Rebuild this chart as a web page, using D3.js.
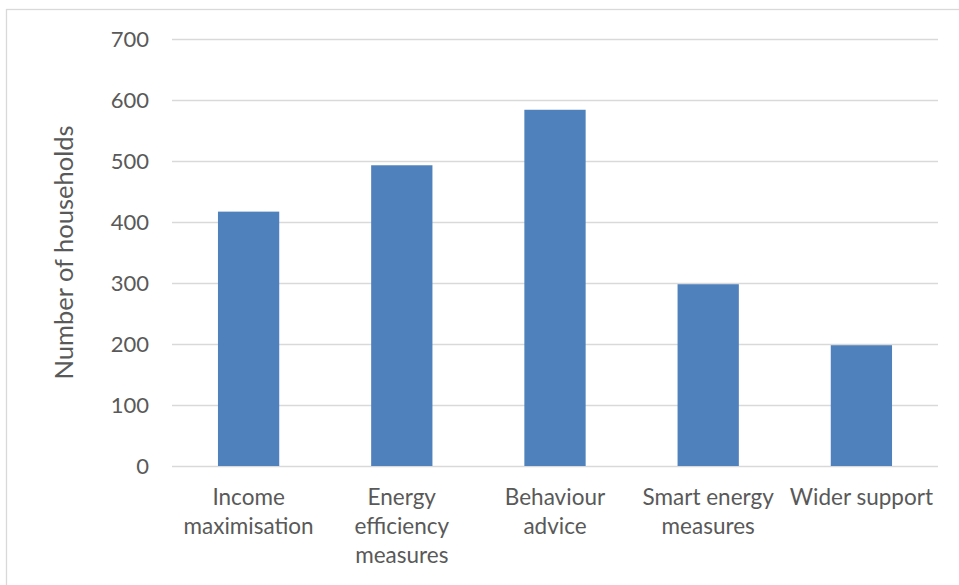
<!DOCTYPE html>
<html>
<head>
<meta charset="utf-8">
<script src="https://cdn.jsdelivr.net/npm/d3@7"></script>
<style>
  html, body { margin: 0; padding: 0; background: #ffffff; }
  svg { display: block; }
  svg text { font-family: Lato, "Open Sans", sans-serif; }
</style>
</head>
<body>
<svg id="chart" width="959" height="585"></svg>
<script>
// Support offered, by number of households
const categories = [
  ["Income", "maximisation"],
  ["Energy", "efficiency", "measures"],
  ["Behaviour", "advice"],
  ["Smart energy", "measures"],
  ["Wider support"]
];
const households = [417, 493, 584, 298, 198];
const yTicks = [0, 100, 200, 300, 400, 500, 600, 700];
const yTitle = "Number of households";

const W = 959, H = 585;
const plot = { left: 172, right: 938, top: 39, bottom: 466 };
const FONT = "Lato, 'Open Sans', sans-serif";

const svg = d3.select("#chart");

// outer chart frame
svg.append("rect")
  .attr("x", 6.5).attr("y", 9.5)
  .attr("width", W + 20).attr("height", H + 20)
  .attr("fill", "none")
  .attr("stroke", "#d9d9d9")
  .attr("stroke-width", 1.3);

const keys = categories.map((c, i) => i);
const x = d3.scaleBand()
  .domain(keys)
  .range([plot.left, plot.right])
  .paddingInner(0.6)
  .paddingOuter(0.3);

const y = d3.scaleLinear()
  .domain([0, 700])
  .range([plot.bottom, plot.top]);

// horizontal gridlines with value labels
const yAxis = d3.axisLeft(y)
  .tickValues(yTicks)
  .tickSize(-(plot.right - plot.left))
  .tickPadding(23)
  .tickFormat(d3.format("d"));

const gy = svg.append("g")
  .attr("transform", `translate(${plot.left},0)`)
  .call(yAxis)
  .attr("font-family", FONT)
  .attr("font-size", 22);
gy.select(".domain").remove();
gy.selectAll(".tick line")
  .attr("stroke", "#d9d9d9")
  .attr("stroke-width", 1.5);
gy.selectAll(".tick text")
  .attr("fill", "#595959")
  .attr("dy", "0.36em");

// bars
svg.append("g")
  .selectAll("rect")
  .data(households)
  .join("rect")
  .attr("x", (d, i) => x(i))
  .attr("y", d => y(d))
  .attr("width", x.bandwidth())
  .attr("height", d => y(0) - y(d))
  .attr("fill", "#4f81bd");

// category labels
const labels = svg.append("g")
  .attr("fill", "#595959")
  .attr("font-family", FONT)
  .attr("font-size", 22.5)
  .attr("text-anchor", "middle");
categories.forEach((lines, i) => {
  const cx = x(i) + x.bandwidth() / 2;
  const t = labels.append("text")
    .attr("x", cx)
    .attr("y", 505);
  lines.forEach((ln, j) => {
    t.append("tspan")
      .attr("x", cx)
      .attr("dy", j === 0 ? 0 : 29)
      .text(ln);
  });
});

// axis title
svg.append("text")
  .attr("transform", `translate(73,${(plot.top + plot.bottom) / 2}) rotate(-90)`)
  .attr("text-anchor", "middle")
  .attr("fill", "#595959")
  .attr("font-family", FONT)
  .attr("font-size", 25.5)
  .text(yTitle);
</script>
</body>
</html>
